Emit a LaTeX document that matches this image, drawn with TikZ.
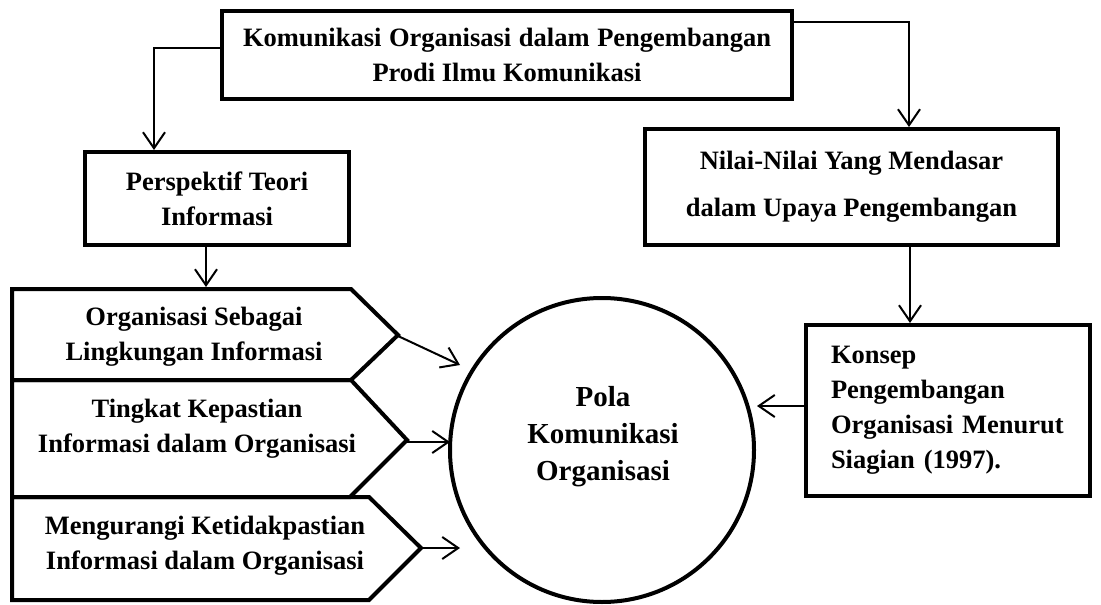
\documentclass[tikz,border=0pt]{standalone}
\usepackage{fontspec}
\setmainfont{Liberation Serif}
\usetikzlibrary{arrows.meta}
\begin{document}
\begin{tikzpicture}[x=1pt,y=-1pt,
  boxnode/.style={draw, line width=4pt, rectangle, inner sep=0pt, align=center,
    font=\fontsize{26.5}{35}\selectfont\bfseries},
  pentline/.style={draw, line width=4pt, line join=miter},
  txtnode/.style={inner sep=0pt, align=center, font=\fontsize{26.5}{35}\selectfont\bfseries},
  conn/.style={line width=2pt, -{Straight Barb[length=16pt,width=22pt]}}]
\useasboundingbox (0,0) rectangle (1101,605);

% boxes
\node[boxnode, minimum width=570pt, minimum height=88pt] (top) at (507,55)
  {\makebox[528pt][s]{Komunikasi Organisasi dalam Pengembangan}\\Prodi Ilmu Komunikasi};
\node[boxnode, minimum width=264pt, minimum height=93pt] (persp) at (217,198.5)
  {Perspektif Teori\\Informasi};
\node[boxnode, minimum width=413pt, minimum height=116pt,
  font=\fontsize{26.5}{47}\selectfont\bfseries] (nilai) at (851.5,187)
  {Nilai-Nilai Yang Mendasar\\dalam Upaya Pengembangan};
\node[boxnode, minimum width=284pt, minimum height=171pt, text width=234pt, align=left] (konsep) at (948,410.5)
  {Konsep\\Pengembangan\\\makebox[234pt][s]{Organisasi Menurut}\\Siagian (1997).};

% circle
\node[draw, circle, line width=4pt, minimum size=304pt, inner sep=0pt] (pola) at (602,450) {};
\node[txtnode, font=\fontsize{29}{37}\selectfont\bfseries] (polatext) at (603,437) {Pola\\Komunikasi\\Organisasi};

% pentagons
\draw[pentline] (12,289) -- (351,289) -- (398,335) -- (351,380) -- (12,380) -- cycle;
\draw[pentline] (12,380) -- (351,380) -- (407,440) -- (350,497) -- (12,497) -- cycle;
\draw[pentline] (12,497) -- (369,497) -- (421,548) -- (369,600) -- (12,600) -- cycle;
\node[txtnode] (p1) at (194,336.4) {Organisasi Sebagai\\Lingkungan Informasi};
\node[txtnode] (p2) at (197,429) {Tingkat Kepastian\\Informasi dalam Organisasi};
\node[txtnode] (p3) at (205,545.4) {Mengurangi Ketidakpastian\\Informasi dalam Organisasi};

\coordinate (p1top) at (206,287);
\coordinate (p1tip) at (398,336);
\coordinate (p2tip) at (407,442);
\coordinate (p3tip) at (421,548);
\coordinate (a1end) at (460,365);
\coordinate (a2end) at (450,442);
\coordinate (a3end) at (460,548);
\coordinate (kend) at (757,406);

% connectors
\draw[conn] (top.west |- 0,48) -| (154,0 |- persp.north);
\draw[conn] (top.east |- 0,22) -| (909,0 |- nilai.north);
\draw[conn] (206,0 |- persp.south) -- (p1top);
\draw[conn] (910,0 |- nilai.south) -- (910,0 |- konsep.north);
\draw[conn] (konsep.west |- kend) -- (kend);
\draw[conn] (p1tip) -- (a1end);
\draw[conn] (p2tip) -- (a2end);
\draw[conn] (p3tip) -- (a3end);
\end{tikzpicture}
\end{document}
